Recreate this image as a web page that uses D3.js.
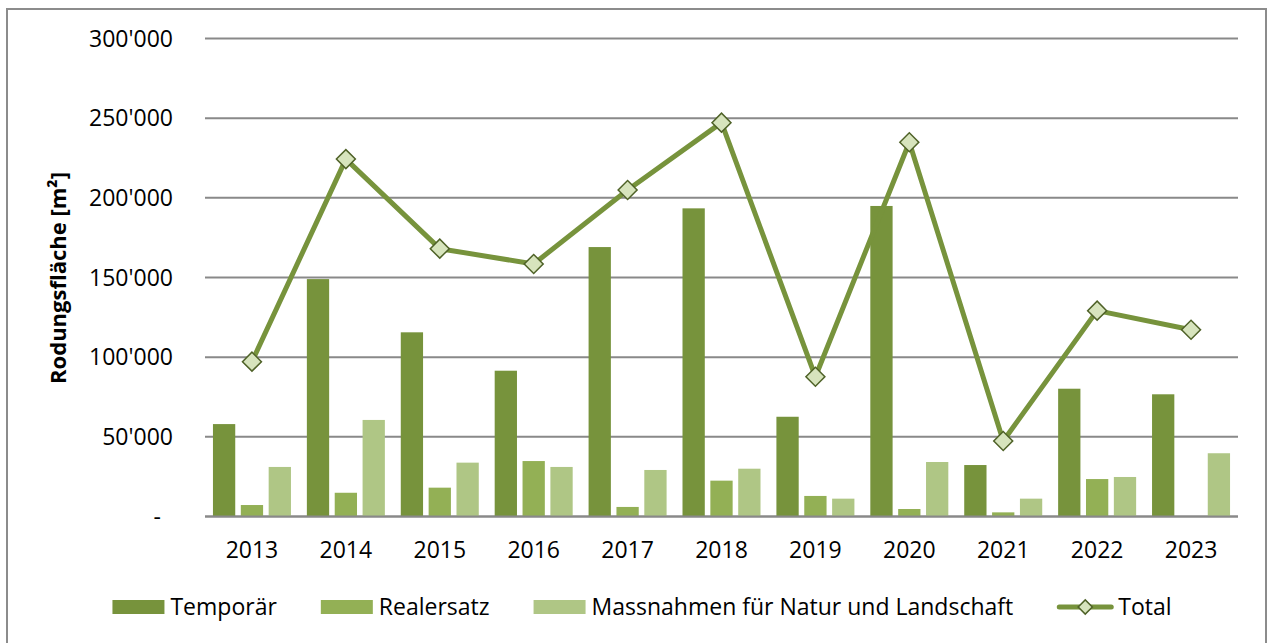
<!DOCTYPE html>
<html>
<head>
<meta charset="utf-8">
<script src="https://cdn.jsdelivr.net/npm/d3@7"></script>
<style>
    html, body { margin: 0; padding: 0; background: #fff; }
    svg { display: block; }
    text { font-family: 'Open Sans', 'Noto Sans', sans-serif; fill: #000; }
</style>
</head>
<body>
<svg id="chart" width="1268" height="643"></svg>
<script>
    // data
    const years = ['2013', '2014', '2015', '2016', '2017', '2018', '2019', '2020', '2021', '2022', '2023'];
    const temporaer = [58000, 149000, 115600, 91500, 169100, 193400, 62600, 194900, 32300, 80200, 76700];
    const realersatz = [7200, 14900, 18100, 34800, 6000, 22500, 12900, 4700, 2600, 23500, 0];
    const massnahmen = [31100, 60600, 33800, 31100, 29200, 30000, 11200, 34200, 11200, 24800, 39700];
    const total = [97200, 224300, 168100, 158500, 204900, 247200, 87700, 234900, 47400, 129200, 117200];
    const yTicks = [0, 50000, 100000, 150000, 200000, 250000, 300000];
    const yTickLabels = ['-', "50'000", "100'000", "150'000", "200'000", "250'000", "300'000"];
    const seriesNames = ['Temporär', 'Realersatz', 'Massnahmen für Natur und Landschaft'];
    const seriesColors = ['#77933C', '#93B055', '#AFC685'];
    const lineName = 'Total';
    const yTitle = 'Rodungsfläche [m²]';

    const svg = d3.select('#chart');
    const plot = { left: 205, right: 1238, top: 38.5, bottom: 516.5 };
    const fontSize = 23;

    // outer frame
    svg.append('rect')
        .attr('x', 7)
        .attr('y', 9)
        .attr('width', 1259)
        .attr('height', 660)
        .attr('fill', 'none')
        .attr('stroke', '#8c8c8c')
        .attr('stroke-width', 2);

    const xScale = d3.scaleBand()
        .domain(years)
        .range([plot.left, plot.right])
        .paddingInner(0)
        .paddingOuter(0);

    const inner = d3.scaleBand()
        .domain(d3.range(seriesNames.length))
        .range([-39, 39])
        .paddingInner(0.2)
        .paddingOuter(0);

    const yScale = d3.scaleLinear()
        .domain([0, 300000])
        .range([plot.bottom, plot.top]);

    // gridlines
    svg.append('g')
        .selectAll('line')
        .data(yTicks)
        .join('line')
            .attr('x1', plot.left)
            .attr('x2', plot.right)
            .attr('y1', d => yScale(d))
            .attr('y2', d => yScale(d))
            .attr('stroke', '#898989')
            .attr('stroke-width', 2);

    // y axis labels
    const yAxis = d3.axisLeft(yScale)
        .tickValues(yTicks)
        .tickSize(0)
        .tickPadding(0)
        .tickFormat((d, i) => yTickLabels[i]);

    const yAxisG = svg.append('g')
        .attr('transform', 'translate(173, 0)')
        .call(yAxis);
    yAxisG.select('.domain').remove();
    yAxisG.selectAll('text')
        .attr('font-family', null)
        .style('font-size', fontSize + 'px')
        .attr('dy', '0.34em')
        .attr('x', (d, i) => i === 0 ? -12 : 0);

    // bars
    const seriesData = [temporaer, realersatz, massnahmen];
    seriesData.forEach((values, s) => {
        svg.append('g')
            .selectAll('rect')
            .data(values)
            .join('rect')
                .attr('x', (d, i) => xScale(years[i]) + xScale.bandwidth() / 2 + inner(s))
                .attr('y', d => yScale(d))
                .attr('width', inner.bandwidth())
                .attr('height', d => yScale(0) - yScale(d))
                .attr('fill', seriesColors[s]);
    });

    // zero line on top of bars
    svg.append('line')
        .attr('x1', plot.left)
        .attr('x2', plot.right)
        .attr('y1', yScale(0))
        .attr('y2', yScale(0))
        .attr('stroke', '#898989')
        .attr('stroke-width', 2);

    // x axis labels
    const xAxis = d3.axisBottom(xScale).tickSize(0).tickPadding(0);
    const xAxisG = svg.append('g')
        .attr('transform', 'translate(0, 558)')
        .call(xAxis);
    xAxisG.select('.domain').remove();
    xAxisG.selectAll('text')
        .attr('font-family', null)
        .style('font-size', fontSize + 'px')
        .attr('dy', 0)
        .attr('y', 0);

    // total line
    const line = d3.line()
        .x((d, i) => xScale(years[i]) + xScale.bandwidth() / 2)
        .y(d => yScale(d));

    svg.append('path')
        .datum(total)
        .attr('d', line)
        .attr('fill', 'none')
        .attr('stroke', '#77933C')
        .attr('stroke-width', 5)
        .attr('stroke-linejoin', 'round');

    const diamond = d3.symbol().type(d3.symbolSquare).size(180);
    svg.append('g')
        .selectAll('path')
        .data(total)
        .join('path')
            .attr('d', diamond)
            .attr('transform', (d, i) => `translate(${xScale(years[i]) + xScale.bandwidth() / 2}, ${yScale(d)}) rotate(45)`)
            .attr('fill', '#D7E4BD')
            .attr('stroke', '#4F6228')
            .attr('stroke-width', 1.5);

    // y title
    svg.append('text')
        .attr('transform', 'translate(66, 278) rotate(-90)')
        .attr('text-anchor', 'middle')
        .style('font-size', '22px')
        .style('font-weight', 'bold')
        .text(yTitle);

    // legend
    const legend = svg.append('g');
    const legendY = 607;
    const gap = 44;
    let lx = 0;
    const items = seriesNames.map((name, i) => ({ name: name, color: seriesColors[i], type: 'bar' }))
        .concat([{ name: lineName, color: '#77933C', type: 'line' }]);

    items.forEach(item => {
        const g = legend.append('g').attr('transform', `translate(${lx}, 0)`);
        if (item.type === 'bar') {
            g.append('rect')
                .attr('x', 0)
                .attr('y', legendY - 7)
                .attr('width', 52)
                .attr('height', 14)
                .attr('fill', item.color);
        } else {
            g.append('line')
                .attr('x1', 2).attr('x2', 54)
                .attr('y1', legendY).attr('y2', legendY)
                .attr('stroke', item.color)
                .attr('stroke-width', 5)
                .attr('stroke-linecap', 'round');
            g.append('path')
                .attr('d', d3.symbol().type(d3.symbolSquare).size(100))
                .attr('transform', `translate(28, ${legendY}) rotate(45)`)
                .attr('fill', '#D7E4BD')
                .attr('stroke', '#4F6228')
                .attr('stroke-width', 1.5);
        }
        const t = g.append('text')
            .attr('x', item.type === 'bar' ? 58 : 61)
            .attr('y', legendY + 7.5)
            .style('font-size', fontSize + 'px')
            .text(item.name);
        lx += (item.type === 'bar' ? 58 : 61) + t.node().getComputedTextLength() + gap;
    });
    const legendWidth = lx - gap;
    legend.attr('transform', `translate(${642 - legendWidth / 2}, 0)`);
</script>
</body>
</html>
